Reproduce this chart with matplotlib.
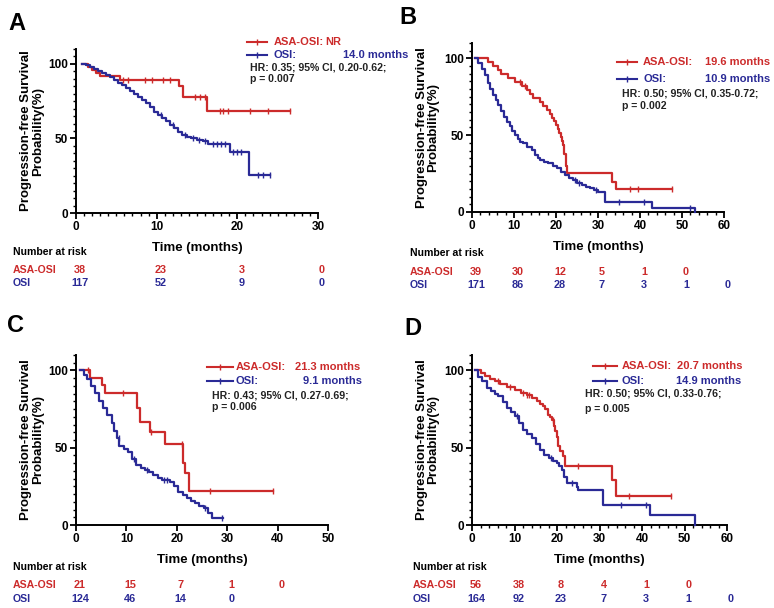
import numpy as np
import matplotlib
matplotlib.use("Agg")
import matplotlib.pyplot as plt
from matplotlib.lines import Line2D
from matplotlib.ticker import MultipleLocator
import matplotlib.transforms as mtransforms

plt.rcParams['font.family'] = ['Liberation Sans', 'DejaVu Sans']

RED = '#cc2b2b'
BLUE = '#2a2a96'

# ---------------- data ----------------
# Panel A
a_asa_t = [0.7, 1.5, 2.0, 2.5, 3.0, 5.4, 12.8, 13.3, 16.3, 26.5]
a_asa_s = [100, 98, 96, 94, 92, 89, 85, 78, 68.5, 68.5]
a_asa_c = [5.8, 6.4, 8.6, 9.4, 10.8, 11.6, 14.7, 15.4, 16.0, 17.8, 18.2, 18.8, 21.6, 23.8, 26.5]
a_osi_t = [0.7, 1.2, 1.7, 2.2, 2.7, 3.2, 3.7, 4.2, 4.7, 5.2, 5.7, 6.2, 6.7, 7.2, 7.7, 8.2, 8.7,
           9.2, 9.7, 10.2, 10.7, 11.2, 11.7, 12.2, 12.7, 13.2, 13.7, 14.3, 15.0, 15.7, 16.4,
           17.2, 19.1, 21.5, 24.0]
a_osi_s = [100, 99, 98, 96.5, 95, 94, 92.5, 91, 89, 87.5, 86, 84, 82, 80, 78, 76, 74,
           71, 68, 66, 64, 61.5, 59, 57, 54, 52, 51, 50, 49, 48, 46.5,
           46, 41, 25.5, 25.5]
a_osi_c = [10.5, 12.0, 13.5, 14.5, 15.2, 16.0, 17.0, 17.5, 18.0, 18.5, 19.5, 20.0, 20.5, 22.5, 23.2, 24.0]

# Panel B
b_asa_t = [0.7, 3.9, 5.0, 6.3, 7.0, 8.6, 10.2, 12.0, 13.0, 13.8, 14.5, 16.2, 17.0, 17.8, 18.5,
           19.0, 19.5, 20.0, 20.5, 20.8, 21.1, 21.4, 21.7, 22.0, 22.3, 22.6, 33.3, 34.2, 47.5]
b_asa_s = [100, 97.4, 94.9, 92.3, 89.7, 87.2, 84.6, 82, 79.5, 76.9, 74.4, 71.8, 69.2, 66.7, 64,
           61.5, 59, 56.4, 53.8, 51.3, 48.7, 46.2, 43.6, 38, 30, 25.1, 19.8, 14.9, 14.9]
b_asa_c = [11.5, 12.5, 37.5, 39.5, 47.5]
b_osi_t = [0.7, 1.5, 2.3, 3.0, 3.7, 4.3, 5.0, 5.7, 6.3, 7.0, 7.7, 8.3, 9.0, 9.6, 10.2, 10.9,
           11.5, 12.2, 13.0, 14.2, 15.0, 15.6, 16.2, 17.2, 18.2, 19.2, 20.2, 21.2, 22.1, 23.1,
           24.1, 25.1, 26.1, 27.1, 28.1, 29.1, 30.1, 31.7, 42.8, 53.0]
b_osi_s = [100, 97, 93, 89, 84, 80, 76, 73, 69.5, 65.5, 62, 58.6, 56, 53, 50, 47.5,
           45.5, 44.6, 42.5, 40.3, 37, 35, 33.8, 32.5, 31.6, 30, 28.4, 26, 24, 22.3,
           20.8, 19, 17.5, 16.2, 15.4, 14, 13.2, 6.7, 2.4, 0]
b_osi_c = [24.5, 25.5, 29.5, 35.0, 41.0, 52.0]

# Panel C
c_asa_t = [0.8, 2.8, 5.2, 5.75, 12.2, 12.7, 14.7, 17.7, 21.2, 21.6, 22.4, 39.1]
c_asa_s = [100, 95.2, 90.5, 85.7, 76, 66.4, 60, 52.6, 40, 33.5, 22.3, 22.3]
c_asa_c = [2.4, 9.4, 14.9, 21.0, 26.6, 39.1]
c_osi_t = [0.8, 1.5, 2.1, 2.9, 3.8, 4.6, 5.4, 6.2, 7.1, 7.6, 8.1, 8.6, 9.5, 10.4, 11.2, 12.0,
           12.8, 13.7, 14.5, 15.3, 16.2, 17.0, 18.7, 19.5, 20.3, 21.2, 22.0, 22.8, 23.6, 24.5,
           25.3, 26.1, 26.9, 29.2]
c_osi_s = [100, 97, 94.2, 90, 85.5, 80.5, 75.8, 71, 66, 61, 56, 51, 49, 47, 43, 39,
           37, 35.7, 34, 32.5, 30.5, 29.2, 28.1, 25, 21.6, 19.5, 17.3, 15.5, 14, 12.5,
           10.8, 8, 4.3, 4.3]
c_osi_c = [8.5, 11.5, 14.0, 17.5, 18.0, 25.5, 29.0]

# Panel D
d_asa_t = [0.8, 2.0, 3.1, 4.2, 5.4, 6.6, 8.2, 10.0, 11.5, 13.0, 14.0, 15.2, 16.0, 16.6, 17.2,
           17.8, 18.3, 18.75, 19.2, 19.5, 20.0, 20.3, 20.8, 21.5, 21.9, 32.9, 33.8, 46.8]
d_asa_s = [100, 98.2, 96.4, 94.6, 92.9, 91.1, 89.3, 87.5, 85.7, 83.9, 82.1, 80.4, 78.6, 76.8, 75,
           71.4, 69.6, 67.9, 64.3, 60.7, 57, 51, 48, 44.4, 38, 29.2, 19, 19]
d_asa_c = [6.0, 9.0, 12.0, 13.0, 13.5, 19.0, 25.0, 37.0, 46.8]
d_osi_t = [0.8, 1.5, 2.3, 3.5, 4.5, 5.3, 6.2, 7.2, 8.2, 9.1, 10.1, 11.1, 12.1, 13.0, 14.0, 15.0,
           16.0, 17.0, 18.0, 19.0, 19.9, 20.5, 21.1, 21.7, 22.3, 24.6, 25.0, 30.9, 41.9, 52.5]
d_osi_s = [100, 96, 93, 88.7, 86.5, 85, 83.3, 79.5, 75.8, 73, 70.3, 66, 61.7, 59, 56.3, 52.5,
           48.7, 45.5, 43.3, 41.6, 40, 38, 35.7, 31, 27.1, 24.9, 22.7, 13, 6.5, 0]
d_osi_c = [10.5, 18.5, 23.5, 35.0, 41.0]

# Number at risk
a_risk_t = [0, 10, 20, 30]
a_risk_asa = [38, 23, 3, 0]
a_risk_osi = [117, 52, 9, 0]
b_risk_t = [0, 10, 20, 30, 40, 50, 60]
b_risk_asa = [39, 30, 12, 5, 1, 0]
b_risk_osi = [171, 86, 28, 7, 3, 1, 0]
c_risk_t = [0, 10, 20, 30, 40]
c_risk_asa = [21, 15, 7, 1, 0]
c_risk_osi = [124, 46, 14, 0]
d_risk_t = [0, 10, 20, 30, 40, 50, 60]
d_risk_asa = [56, 38, 8, 4, 1, 0]
d_risk_osi = [164, 92, 23, 7, 3, 1, 0]

# Legend / stats text
a_txt = ("NR", "14.0 months", "HR: 0.35; 95% CI, 0.20-0.62;", "p = 0.007")
b_txt = ("19.6 months", "10.9 months", "HR: 0.50; 95% CI, 0.35-0.72;", "p = 0.002")
c_txt = ("21.3 months", "9.1 months", "HR: 0.43; 95% CI, 0.27-0.69;", "p = 0.006")
d_txt = ("20.7 months", "14.9 months", "HR: 0.50; 95% CI, 0.33-0.76;", "p = 0.005")

W, H = 774, 608
fig = plt.figure(figsize=(W / 100, H / 100), dpi=100)


def fx(x):
    return x / W


def fy(y):
    return 1 - y / H


def km(ax, t, s, cens, color):
    t = np.asarray(t, float)
    s = np.asarray(s, float)
    ax.step(t, s, where='post', color=color, lw=1.6, clip_on=False, zorder=3)
    cens = np.asarray(cens, float)
    idx = np.searchsorted(t, cens, side='right') - 1
    idx = np.clip(idx, 0, len(s) - 1)
    ax.plot(cens, s[idx], ls='none', marker='|', ms=4, mew=1.0, color=color,
            clip_on=False, zorder=4)


def panel(rect, xmax, xminor, curves, letter, letter_pos, legend, txt, risk):
    x0, x1, ytop, ybot = rect
    ax = fig.add_axes([fx(x0), fy(ybot), fx(x1) - fx(x0), fy(ytop) - fy(ybot)])
    for t, s, c, col in curves:
        km(ax, t, s, c, col)
    ax.set_xlim(0, xmax)
    ax.set_ylim(0, 110)
    ax.spines['top'].set_visible(False)
    ax.spines['right'].set_visible(False)
    for sp in ('left', 'bottom'):
        ax.spines[sp].set_linewidth(1.4)
    ax.set_xticks(np.arange(0, xmax + 1, 10))
    ax.set_yticks([0, 50, 100])
    if xminor:
        ax.xaxis.set_minor_locator(MultipleLocator(xminor))
    ax.yaxis.set_minor_locator(MultipleLocator(5))
    ax.tick_params(which='major', length=4, width=1.3, labelsize=8.5, pad=2)
    ax.tick_params(which='minor', length=2.5, width=1.0)
    for lab in ax.get_xticklabels() + ax.get_yticklabels():
        lab.set_fontweight('bold')
    ax.set_xlabel('Time (months)', fontsize=9.5, fontweight='bold', labelpad=6)
    ax.set_ylabel('Progression-free Survival\nProbability(%)', fontsize=9.5,
                  fontweight='bold', labelpad=3, linespacing=1.0)
    # panel letter
    fig.text(fx(letter_pos[0]), fy(letter_pos[1]), letter, fontsize=17,
             fontweight='bold', ha='left', va='center')
    # legend
    lx0, lx1, ly1, ly2, tx, vx1, vx2, hx, hy1, hy2 = legend
    for ly, col in ((ly1, RED), (ly2, BLUE)):
        fig.add_artist(Line2D([fx(lx0), fx(lx1)], [fy(ly), fy(ly)], color=col, lw=1.5))
        fig.add_artist(Line2D([fx((lx0 + lx1) / 2)], [fy(ly)], color=col, marker='|',
                              ms=4, mew=1.0))
    fig.text(fx(tx), fy(ly1), 'ASA-OSI:', color=RED, fontsize=8, fontweight='bold', va='center')
    fig.text(fx(vx1), fy(ly1), txt[0], color=RED, fontsize=8, fontweight='bold', va='center')
    fig.text(fx(tx), fy(ly2), 'OSI:', color=BLUE, fontsize=8, fontweight='bold', va='center')
    fig.text(fx(vx2), fy(ly2), txt[1], color=BLUE, fontsize=8, fontweight='bold', va='center')
    fig.text(fx(hx), fy(hy1), txt[2], color='#222222', fontsize=7.6, fontweight='bold', va='center')
    fig.text(fx(hx), fy(hy2), txt[3], color='#222222', fontsize=7.6, fontweight='bold', va='center')
    # risk table
    rx, ry0, ry1, ry2, rt, rasa, rosi = risk
    fig.text(fx(rx), fy(ry0), 'Number at risk', fontsize=7.6, fontweight='bold', va='center')
    fig.text(fx(rx), fy(ry1), 'ASA-OSI', color=RED, fontsize=7.6, fontweight='bold', va='center')
    fig.text(fx(rx), fy(ry2), 'OSI', color=BLUE, fontsize=7.6, fontweight='bold', va='center')
    off = mtransforms.ScaledTranslation(4 / 100, 0, fig.dpi_scale_trans)
    trans = mtransforms.blended_transform_factory(ax.transData, fig.transFigure) + off
    for i, n in enumerate(rasa):
        fig.text(rt[i], fy(ry1), str(n), color=RED, fontsize=7.8, fontweight='bold',
                 ha='center', va='center', transform=trans)
    for i, n in enumerate(rosi):
        fig.text(rt[i], fy(ry2), str(n), color=BLUE, fontsize=7.8, fontweight='bold',
                 ha='center', va='center', transform=trans)
    return ax


panel((76, 318, 49, 213), 30, 1,
      [(a_asa_t, a_asa_s, a_asa_c, RED), (a_osi_t, a_osi_s, a_osi_c, BLUE)],
      'A', (8, 23),
      (247, 267, 42, 55, 274, 325, 343, 250, 68, 79), a_txt,
      (13, 252, 270, 283, a_risk_t, a_risk_asa, a_risk_osi))

panel((472, 724, 43, 212), 60, 2,
      [(b_asa_t, b_asa_s, b_asa_c, RED), (b_osi_t, b_osi_s, b_osi_c, BLUE)],
      'B', (399, 17),
      (617, 637, 62, 79, 643, 705, 705, 622, 94, 106), b_txt,
      (410, 253, 272, 285, b_risk_t, b_risk_asa, b_risk_osi))

panel((76, 328, 355, 525), 50, None,
      [(c_asa_t, c_asa_s, c_asa_c, RED), (c_osi_t, c_osi_s, c_osi_c, BLUE)],
      'C', (7, 326),
      (207, 233, 367, 381, 236, 295, 303, 212, 396, 407), c_txt,
      (13, 567, 585, 599, c_risk_t, c_risk_asa, c_risk_osi))

panel((472, 727, 355, 525), 60, 2,
      [(d_asa_t, d_asa_s, d_asa_c, RED), (d_osi_t, d_osi_s, d_osi_c, BLUE)],
      'D', (404, 329),
      (593, 617, 366, 381, 622, 677, 676, 585, 394, 409), d_txt,
      (413, 567, 585, 599, d_risk_t, d_risk_asa, d_risk_osi))

fig.savefig('out.png', dpi=100)
